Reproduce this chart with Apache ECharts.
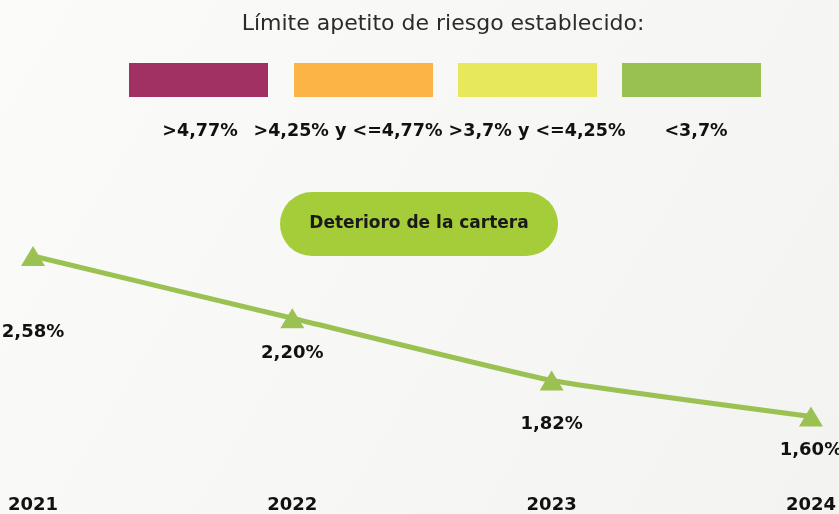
<!DOCTYPE html>
<html>
<head>
<meta charset="utf-8">
<script src="https://cdn.jsdelivr.net/npm/echarts@6/dist/echarts.min.js"></script>
<style>
  html, body { margin: 0; padding: 0; background: #f6f6f4; }
  #chart { width: 839px; height: 514px; }
</style>
</head>
<body>
<div id="chart"></div>
<script>
    // datos del gráfico
    var years = ['2021', '2022', '2023', '2024'];
    var deterioro = [2.58, 2.20, 1.82, 1.60];
    // leyenda del apetito de riesgo
    var limitLabels = ['>4,77%', '>4,25% y <=4,77%', '>3,7% y <=4,25%', '<3,7%'];
    var limitColors = ['#A23163', '#FBB445', '#E8E85D', '#98C152'];
    // desplazamiento de cada etiqueta bajo el punto
    var labelDist = [57, 16, 25, 15];

    var font = '"DejaVu Sans", sans-serif';
    var chart = echarts.init(document.getElementById('chart'));

    // rectángulos y textos de la leyenda
    var boxX = [129, 294, 458, 622];
    var boxW = 139;
    var graphic = [];
    graphic.push({
        type: 'text',
        x: 443,
        y: 24,
        style: { text: 'Límite apetito de riesgo establecido:', fill: '#2b2b2b', font: '400 22px ' + font, align: 'center', verticalAlign: 'middle' }
    });
    for (let i = 0; i < limitColors.length; i++) {
        graphic.push({
            type: 'rect',
            shape: { x: boxX[i], y: 63, width: boxW, height: 34 },
            style: { fill: limitColors[i] }
        });
    }
    var labelCx = [200, 348, 537, 696];
    for (let i = 0; i < limitLabels.length; i++) {
        graphic.push({
            type: 'text',
            x: labelCx[i],
            y: 131,
            style: { text: limitLabels[i], fill: '#111', font: '700 17.5px ' + font, align: 'center', verticalAlign: 'middle' }
        });
    }
    // botón verde
    graphic.push({
        type: 'rect',
        shape: { x: 280, y: 192, width: 278, height: 64, r: 32 },
        style: { fill: '#A5CD39' }
    });
    graphic.push({
        type: 'text',
        x: 419,
        y: 224,
        style: { text: 'Deterioro de la cartera', fill: '#1a1a1a', font: '700 17px ' + font, align: 'center', verticalAlign: 'middle' }
    });

    var option = {
        backgroundColor: new echarts.graphic.LinearGradient(0, 0, 1, 1, [
            { offset: 0, color: '#fbfbfa' },
            { offset: 1, color: '#f3f3f1' }
        ]),
        animation: false,
        grid: { left: 33, right: 26, top: 220, bottom: 30 },
        xAxis: {
            type: 'category',
            data: years,
            boundaryGap: false,
            axisLine: { show: false },
            axisTick: { show: false },
            axisLabel: {
                color: '#111',
                fontFamily: font,
                fontWeight: 700,
                fontSize: 18,
                margin: 14,
                align: 'center'
            }
        },
        yAxis: {
            type: 'value',
            min: 1.2,
            max: 2.8,
            show: false,
            splitLine: { show: false }
        },
        graphic: graphic,
        series: [{
            type: 'line',
            data: deterioro.map(function (v, i) {
                return { value: v, label: { distance: labelDist[i] } };
            }),
            smooth: 0.12,
            symbol: 'triangle',
            symbolSize: [24, 20],
            itemStyle: { color: '#9BC153' },
            lineStyle: { color: '#9BC153', width: 5 },
            label: {
                show: true,
                position: 'bottom',
                color: '#111',
                fontFamily: font,
                fontWeight: 700,
                fontSize: 18,
                formatter: function (p) {
                    return p.value.toFixed(2).replace('.', ',') + '%';
                }
            }
        }]
    };
    chart.setOption(option);
</script>
</body>
</html>
